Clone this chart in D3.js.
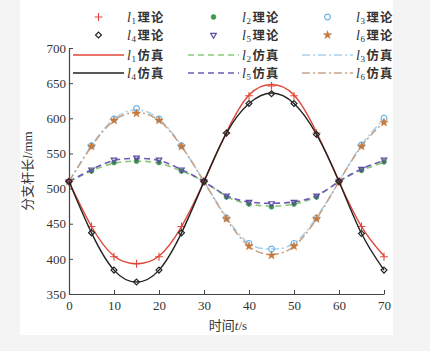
<!DOCTYPE html>
<html>
<head>
<meta charset="utf-8">
<script src="https://cdn.jsdelivr.net/npm/d3@7"></script>
<style>
  body { margin: 0; background: #f4f4f4; }
  svg { display: block; }
  .tick text { font-family: "Liberation Serif", serif; font-size: 13px; fill: #333; }
</style>
</head>
<body>
<div id="chart"></div>
<script>
const times = [0, 5, 10, 15, 20, 25, 30, 35, 40, 45, 50, 55, 60, 65, 70];

// theory points (markers)
const l1Theory = [510, 446, 403, 393, 403, 446, 510, 579, 632, 646, 632, 579, 510, 446, 403];
const l2Theory = [510, 525, 537, 539, 537, 525, 510, 488, 478, 474, 478, 488, 510, 526, 538];
const l3Theory = [510, 561, 599, 614, 599, 561, 510, 458, 422, 414, 422, 458, 510, 562, 600];
const l4Theory = [510, 437, 384, 367, 384, 437, 510, 579, 621, 635, 621, 577, 510, 436, 384];
const l5Theory = [510, 527, 541, 544, 541, 527, 510, 490, 481, 479, 481, 490, 510, 528, 541];
const l6Theory = [510, 560, 597, 607, 597, 560, 510, 457, 418, 405, 418, 457, 510, 560, 594];

// simulation curves
const l1Sim = [510, 446, 404, 393, 404, 446, 510, 580, 633, 648, 633, 580, 510, 446, 404];
const l2Sim = [510, 525, 536, 539, 536, 525, 510, 489, 478, 475, 478, 489, 510, 526, 537];
const l3Sim = [510, 561, 599, 612, 599, 561, 510, 459, 422, 414, 422, 459, 510, 562, 599];
const l4Sim = [510, 437, 384, 367, 384, 437, 510, 579, 621, 636, 621, 577, 510, 436, 384];
const l5Sim = [510, 527, 540, 543, 540, 527, 510, 490, 481, 479, 481, 490, 510, 528, 540];
const l6Sim = [510, 560, 597, 608, 597, 560, 510, 457, 418, 406, 418, 457, 510, 560, 595];

const xTicks = [0, 10, 20, 30, 40, 50, 60, 70];
const yTicks = [350, 400, 450, 500, 550, 600, 650, 700];

const W = 430, H = 351;
const svg = d3.select("#chart").append("svg").attr("width", W).attr("height", H);

svg.append("rect").attr("x", 20).attr("y", 0).attr("width", 373).attr("height", 335).attr("fill", "#fff");

const x = d3.scaleLinear().domain([0, 70]).range([69, 384]);
const y = d3.scaleLinear().domain([350, 700]).range([294, 48]);

// axes (ticks inward)
const xAxis = svg.append("g").attr("transform", `translate(0,${y(350)})`)
    .call(d3.axisBottom(x).tickValues(xTicks).tickSize(-4).tickPadding(7).tickSizeOuter(0));
const yAxis = svg.append("g").attr("transform", `translate(${x(0)},0)`)
    .call(d3.axisLeft(y).tickValues(yTicks).tickSize(-4).tickPadding(5).tickSizeOuter(0));
[xAxis, yAxis].forEach(g => {
    g.select(".domain").attr("stroke", "#444").attr("stroke-width", 1.2);
    g.selectAll(".tick line").attr("stroke", "#444");
});
yAxis.selectAll(".tick text").attr("dx", 2);

// axis titles
svg.append("text")
    .attr("transform", `translate(32,${(y(350) + y(700)) / 2}) rotate(-90)`)
    .attr("text-anchor", "middle")
    .attr("font-size", 13).attr("fill", "#333")
    .call(t => {
        t.append("tspan").attr("font-family", "Noto Sans CJK SC").text("分支杆长");
        t.append("tspan").attr("font-family", "Liberation Serif").attr("font-style", "italic").text("l");
        t.append("tspan").attr("font-family", "Liberation Serif").text("/mm");
    });
svg.append("text")
    .attr("x", 228).attr("y", 330)
    .attr("text-anchor", "middle")
    .attr("font-size", 13).attr("fill", "#333")
    .call(t => {
        t.append("tspan").attr("font-family", "Noto Sans CJK SC").text("时间");
        t.append("tspan").attr("font-family", "Liberation Serif").attr("font-style", "italic").text("t");
        t.append("tspan").attr("font-family", "Liberation Serif").text("/s");
    });

const series = [
    { id: 1, theory: l1Theory, sim: l1Sim, mColor: "#e0463a", lColor: "#e0463a", dash: null, width: 1.4, marker: "plus" },
    { id: 2, theory: l2Theory, sim: l2Sim, mColor: "#3c9a4a", lColor: "#8cc878", dash: "6,4", width: 1.6, marker: "dot" },
    { id: 3, theory: l3Theory, sim: l3Sim, mColor: "#6cb4e4", lColor: "#a8d2ee", dash: "8,3,2,3", width: 1.6, marker: "circle" },
    { id: 4, theory: l4Theory, sim: l4Sim, mColor: "#222", lColor: "#222", dash: null, width: 1.4, marker: "diamond" },
    { id: 5, theory: l5Theory, sim: l5Sim, mColor: "#5a4ca0", lColor: "#6e5cb4", dash: "6,4", width: 1.6, marker: "tri" },
    { id: 6, theory: l6Theory, sim: l6Sim, mColor: "#c87838", lColor: "#c8a286", dash: "8,3,2,3", width: 1.6, marker: "star" }
];

const line = d3.line().x((d, i) => x(times[i])).y(d => y(d)).curve(d3.curveNatural);

function drawMarker(g, kind, color) {
    if (kind === "plus") {
        g.append("path").attr("d", d3.symbol(d3.symbolPlus, 22)()).attr("fill", "none").attr("stroke", color).attr("stroke-width", 1.1);
    } else if (kind === "dot") {
        g.append("path").attr("d", d3.symbol(d3.symbolCircle, 18)()).attr("fill", color).attr("stroke", color).attr("stroke-width", 0.8);
    } else if (kind === "circle") {
        g.append("path").attr("d", d3.symbol(d3.symbolCircle, 26)()).attr("fill", "none").attr("stroke", color).attr("stroke-width", 1.2);
    } else if (kind === "diamond") {
        g.append("path").attr("d", d3.symbol(d3.symbolDiamond2, 22)()).attr("fill", "none").attr("stroke", color).attr("stroke-width", 1.2);
    } else if (kind === "tri") {
        g.append("path").attr("d", d3.symbol(d3.symbolTriangle2, 22)()).attr("transform", "rotate(180)")
            .attr("fill", "none").attr("stroke", color).attr("stroke-width", 1.2);
    } else if (kind === "star") {
        g.append("path").attr("d", d3.symbol(d3.symbolStar, 22)()).attr("fill", color).attr("stroke", color).attr("stroke-width", 0.5);
    }
}

// draw order: lighter first, then black/red on top
const order = [3, 6, 2, 5, 1, 4];
order.forEach(id => {
    const s = series[id - 1];
    svg.append("path").datum(s.sim).attr("d", line)
        .attr("fill", "none").attr("stroke", s.lColor).attr("stroke-width", s.width)
        .attr("stroke-dasharray", s.dash);
    s.theory.forEach((v, i) => {
        const g = svg.append("g").attr("transform", `translate(${x(times[i])},${y(v)})`);
        drawMarker(g, s.marker, s.mColor);
    });
});

// legend
const colX = [73, 188, 302];
const rowY = [17, 35, 55, 73];
series.forEach((s, k) => {
    const col = k % 3;
    const rowT = Math.floor(k / 3);
    const x0 = colX[col], x1 = x0 + 51;
    const mg = svg.append("g").attr("transform", `translate(${(x0 + x1) / 2},${rowY[rowT]})`);
    drawMarker(mg, s.marker, s.mColor);
    const ly = rowY[rowT + 2];
    svg.append("line").attr("x1", x0).attr("x2", x1).attr("y1", ly).attr("y2", ly)
        .attr("stroke", s.lColor).attr("stroke-width", s.width).attr("stroke-dasharray", s.dash);
    [[rowY[rowT], "理论"], [ly, "仿真"]].forEach(([yy, label]) => {
        const tx = x1 + 3;
        svg.append("text").attr("x", tx).attr("y", yy + 5)
            .attr("font-family", "Liberation Serif").attr("font-style", "italic")
            .attr("font-size", 14).attr("fill", "#333").text("l");
        svg.append("text").attr("x", tx + 4.5).attr("y", yy + 7)
            .attr("font-family", "Liberation Serif")
            .attr("font-size", 9).attr("fill", "#333").text(s.id);
        svg.append("text").attr("x", tx + 10.5).attr("y", yy + 4.5)
            .attr("font-family", "Noto Sans CJK SC").attr("font-weight", "bold")
            .attr("font-size", 12.3).attr("letter-spacing", 1.2).attr("fill", "#333").text(label);
    });
});
</script>
</body>
</html>
